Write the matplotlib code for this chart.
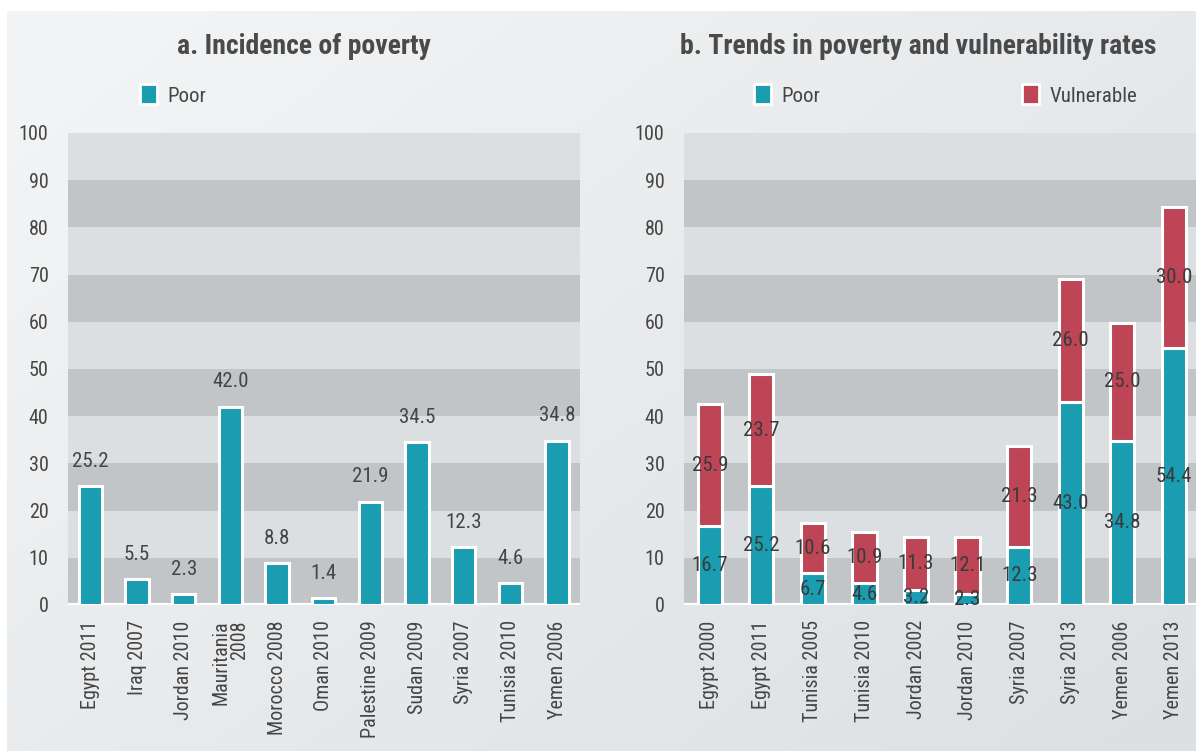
import matplotlib
matplotlib.use("Agg")
import matplotlib.pyplot as plt
import numpy as np
from matplotlib.patches import Patch

plt.rcParams['font.family'] = ['Liberation Sans Narrow', 'DejaVu Sans Condensed',
                               'Roboto Condensed', 'Liberation Sans', 'DejaVu Sans']

# Panel a: incidence of poverty
countries_a = ["Egypt 2011", "Iraq 2007", "Jordan 2010", "Mauritania\n2008",
               "Morocco 2008", "Oman 2010", "Palestine 2009", "Sudan 2009",
               "Syria 2007", "Tunisia 2010", "Yemen 2006"]
poor_a = [25.2, 5.5, 2.3, 42.0, 8.8, 1.4, 21.9, 34.5, 12.3, 4.6, 34.8]

# Panel b: poverty and vulnerability trends
countries_b = ["Egypt 2000", "Egypt 2011", "Tunisia 2005", "Tunisia 2010",
               "Jordan 2002", "Jordan 2010", "Syria 2007", "Syria 2013",
               "Yemen 2006", "Yemen 2013"]
poor_b = [16.7, 25.2, 6.7, 4.6, 3.2, 2.3, 12.3, 43.0, 34.8, 54.4]
vuln_b = [25.9, 23.7, 10.6, 10.9, 11.3, 12.1, 21.3, 26.0, 25.0, 30.0]

y_ticks = list(range(0, 101, 10))

TEAL = "#1a9db1"
RED = "#bd4556"
TXT = "#454545"
BAND_DARK = "#c2c5c7"
BAND_LIGHT = "#dcdfe1"

W, H = 1196, 751
fig = plt.figure(figsize=(W / 100, H / 100), dpi=100)
fig.patch.set_facecolor("white")

# soft gradient panel behind both charts
bg = fig.add_axes([7 / W, 0, 1 - 7 / W, (H - 11) / H])
bg.set_axis_off()
gx = np.linspace(0, 1, 300)
gy = np.linspace(0, 1, 200)
GX, GY = np.meshgrid(gx, gy)
t = np.clip(0.55 * GX + 0.45 * GY, 0, 1)
c0 = np.array([0xf4, 0xf5, 0xf6]) / 255
c1 = np.array([0xdc, 0xe0, 0xe3]) / 255
img = c0[None, None, :] * (1 - t[..., None]) + c1[None, None, :] * t[..., None]
bg.imshow(img, aspect="auto", extent=[0, 1, 0, 1], origin="upper")
bg.set_xlim(0, 1)
bg.set_ylim(0, 1)

bottom = (H - 605) / H
height = (605 - 133) / H


def style_axes(ax):
    ax.set_ylim(0, 100)
    for lo in range(0, 100, 10):
        ax.axhspan(lo, lo + 10, color=BAND_DARK if (lo // 10) % 2 == 0 else BAND_LIGHT,
                   lw=0, zorder=0)
    ax.set_facecolor("none")
    for s in ax.spines.values():
        s.set_visible(False)
    ax.set_yticks(y_ticks)
    ax.tick_params(axis="both", length=0, labelsize=14.5, labelcolor=TXT)
    ax.tick_params(axis="y", pad=14)
    ax.tick_params(axis="x", pad=11)
    ax.axhline(0, color="white", lw=3, zorder=1)


# ---- panel a ----
axa = fig.add_axes([68 / W, bottom, (580 - 68) / W, height])
style_axes(axa)
xa = np.arange(len(countries_a))
bars = axa.bar(xa, poor_a, width=0.5, color=TEAL, edgecolor="white", lw=2.2, zorder=2)
axa.set_xlim(-0.48, len(countries_a) - 1 + 0.49)
axa.set_xticks(xa)
axa.set_xticklabels(countries_a, rotation=90, va="top", ha="center",
                    multialignment="right", fontsize=14.5, linespacing=1.0)
for b, v in zip(bars, poor_a):
    axa.annotate(f"{v:.1f}", (b.get_x() + b.get_width() / 2, v),
                 xytext=(0, 11), textcoords="offset points",
                 ha="center", va="bottom", fontsize=15, color=TXT)
fig.text(304 / W, 1 - 47 / H, "a. Incidence of poverty", ha="center", va="center",
         fontsize=20, fontweight="bold", color="#4a4a4a")
axa.legend(handles=[Patch(facecolor=TEAL, edgecolor="white", lw=2, label="Poor")],
           loc="center left", bbox_to_anchor=(140 / W, 1 - 95 / H),
           bbox_transform=fig.transFigure, frameon=False, fontsize=15,
           borderpad=0, borderaxespad=0,
           handlelength=0.8, handleheight=1.1, handletextpad=0.5,
           labelcolor=TXT)

# ---- panel b ----
axb = fig.add_axes([684 / W, bottom, 1 - 684 / W, height])
style_axes(axb)
xb = np.arange(len(countries_b))
pb = axb.bar(xb, poor_b, width=0.47, color=TEAL, edgecolor="white", lw=2.2, zorder=2)
vb = axb.bar(xb, vuln_b, bottom=poor_b, width=0.47, color=RED, edgecolor="white",
             lw=2.2, zorder=2)
axb.set_xlim(-0.5, len(countries_b) - 1 + 0.43)
axb.set_xticks(xb)
axb.set_xticklabels(countries_b, rotation=90, va="top", ha="center", fontsize=14.5)
for x, p, v in zip(xb, poor_b, vuln_b):
    axb.text(x, p / 2, f"{p:.1f}", ha="center", va="center", fontsize=15, color="#3a3a3a",
             zorder=3)
    axb.text(x, p + v / 2, f"{v:.1f}", ha="center", va="center", fontsize=15,
             color="#3a3a3a", zorder=3)
fig.text(918 / W, 1 - 47 / H, "b. Trends in poverty and vulnerability rates",
         ha="center", va="center", fontsize=20, fontweight="bold", color="#4a4a4a")
axb.legend(handles=[Patch(facecolor=TEAL, edgecolor="white", lw=2, label="Poor"),
                    Patch(facecolor=RED, edgecolor="white", lw=2, label="Vulnerable")],
           loc="center left", bbox_to_anchor=(754 / W, 1 - 95 / H),
           bbox_transform=fig.transFigure, frameon=False, fontsize=15, ncol=2,
           borderpad=0, borderaxespad=0,
           columnspacing=9.7, handlelength=0.8, handleheight=1.1, handletextpad=0.5,
           labelcolor=TXT)

fig.savefig("out.png", dpi=100, facecolor="white")
